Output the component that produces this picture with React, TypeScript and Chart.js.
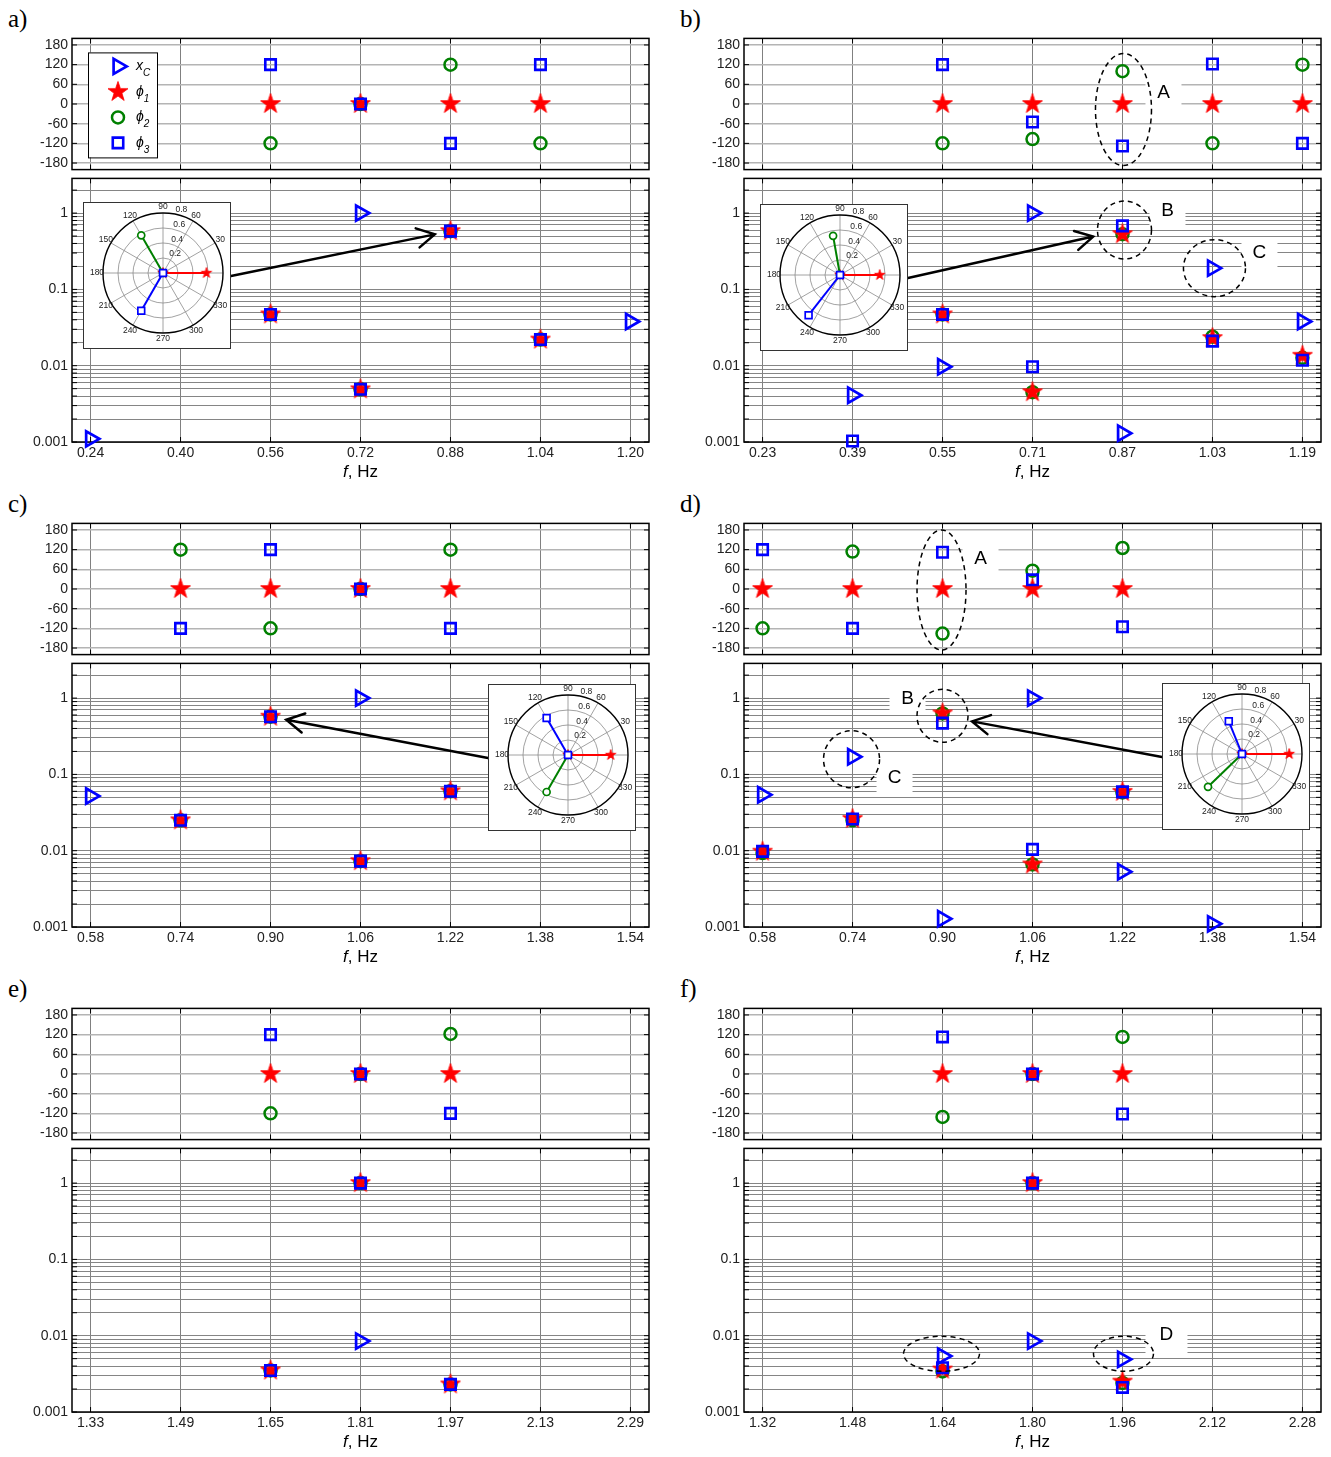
import React, { useEffect, useRef } from 'react';
import { Chart, registerables } from 'chart.js';

Chart.register(...registerables);

type Num = number | null;

// ---------------- shared axis values ----------------
const phaseTicks = [-180, -120, -60, 0, 60, 120, 180];
const magDecades = [0.001, 0.01, 0.1, 1];
const magSteps = [1, 2, 3, 4, 5, 6, 7, 8, 9];
const polarRings = [0.2, 0.4, 0.6, 0.8];
const polarAngles = [30, 60, 90, 120, 150, 180, 210, 240, 270, 300, 330];
const MAG_MAX = 2.85;

// ---------------- panel a ----------------
const aTicks = [0.24, 0.4, 0.56, 0.72, 0.88, 1.04, 1.2];
const aFreq = [0.24, 0.56, 0.72, 0.88, 1.04, 1.2];
const aXcMag: Num[] = [0.0011, null, 1.0, null, null, 0.038];
const aPhi1Mag: Num[] = [null, 0.047, 0.0049, 0.58, 0.022, null];
const aPhi2Mag: Num[] = [null, 0.047, 0.0049, 0.58, 0.022, null];
const aPhi3Mag: Num[] = [null, 0.047, 0.0049, 0.58, 0.022, null];
const aPhi1Deg: Num[] = [null, 0, 0, 0, 0, null];
const aPhi2Deg: Num[] = [null, -120, 0, 120, -120, null];
const aPhi3Deg: Num[] = [null, 120, 0, -120, 120, null];

// ---------------- panel b ----------------
const bTicks = [0.23, 0.39, 0.55, 0.71, 0.87, 1.03, 1.19];
const bFreq = [0.39, 0.55, 0.71, 0.87, 1.03, 1.19];
const bXcMag: Num[] = [0.0041, 0.0097, 1.0, 0.0013, 0.19, 0.038];
const bPhi1Mag: Num[] = [null, 0.047, 0.0045, 0.53, 0.023, 0.0135];
const bPhi2Mag: Num[] = [null, 0.047, 0.0045, 0.53, 0.024, 0.0127];
const bPhi3Mag: Num[] = [0.00103, 0.047, 0.0097, 0.68, 0.021, 0.0118];
const bPhi1Deg: Num[] = [null, 0, 0, 0, 0, 0];
const bPhi2Deg: Num[] = [null, -120, -107, 100, -120, 120];
const bPhi3Deg: Num[] = [null, 120, -55, -128, 122, -120];

// ---------------- panel c ----------------
const cTicks = [0.58, 0.74, 0.9, 1.06, 1.22, 1.38, 1.54];
const cFreq = [0.58, 0.74, 0.9, 1.06, 1.22];
const cXcMag: Num[] = [0.052, null, null, 1.0, null];
const cPhi1Mag: Num[] = [null, 0.025, 0.57, 0.0073, 0.06];
const cPhi2Mag: Num[] = [null, 0.025, 0.57, 0.0073, 0.06];
const cPhi3Mag: Num[] = [null, 0.025, 0.57, 0.0073, 0.06];
const cPhi1Deg: Num[] = [null, 0, 0, 0, 0];
const cPhi2Deg: Num[] = [null, 120, -120, 0, 120];
const cPhi3Deg: Num[] = [null, -120, 120, 0, -120];

// ---------------- panel d ----------------
const dTicks = [0.58, 0.74, 0.9, 1.06, 1.22, 1.38, 1.54];
const dFreq = [0.58, 0.74, 0.9, 1.06, 1.22, 1.38];
const dXcMag: Num[] = [0.054, 0.17, 0.00128, 1.0, 0.0053, 0.0011];
const dPhi1Mag: Num[] = [0.0097, 0.026, 0.63, 0.0066, 0.059, null];
const dPhi2Mag: Num[] = [0.0093, 0.025, 0.63, 0.0066, 0.058, null];
const dPhi3Mag: Num[] = [0.0098, 0.026, 0.47, 0.0104, 0.059, null];
const dPhi1Deg: Num[] = [0, 0, 0, 0, 0, null];
const dPhi2Deg: Num[] = [-120, 114, -136, 56, 125, null];
const dPhi3Deg: Num[] = [120, -120, 112, 28, -115, null];

// ---------------- panel e ----------------
const eTicks = [1.33, 1.49, 1.65, 1.81, 1.97, 2.13, 2.29];
const eFreq = [1.65, 1.81, 1.97];
const eXcMag: Num[] = [null, 0.0085, null];
const ePhi1Mag: Num[] = [0.0035, 1.0, 0.0023];
const ePhi2Mag: Num[] = [0.0035, 1.0, 0.0023];
const ePhi3Mag: Num[] = [0.0035, 1.0, 0.0023];
const ePhi1Deg: Num[] = [0, 0, 0];
const ePhi2Deg: Num[] = [-120, 0, 122];
const ePhi3Deg: Num[] = [120, 0, -120];

// ---------------- panel f ----------------
const fTicks = [1.32, 1.48, 1.64, 1.8, 1.96, 2.12, 2.28];
const fFreq = [1.64, 1.8, 1.96];
const fXcMag: Num[] = [0.0054, 0.0085, 0.0049];
const fPhi1Mag: Num[] = [0.0036, 1.0, 0.0025];
const fPhi2Mag: Num[] = [0.0034, 1.0, 0.0024];
const fPhi3Mag: Num[] = [0.0038, 1.0, 0.0021];
const fPhi1Deg: Num[] = [0, 0, 0];
const fPhi2Deg: Num[] = [-131, 0, 113];
const fPhi3Deg: Num[] = [113, 0, -122];

// ---------------- annotations ----------------
interface Ellipse { sub: 'top' | 'bot'; x: number; y: number; rx: number; ry: number; dx?: number }
interface Label { sub: 'top' | 'bot'; x: number; y: number; dx: number; dy: number; text: string; bw?: number; bh?: number }
interface Inset { left: number; top: number; idx: number; side: 'left' | 'right'; toX: number; toY: number; gap: number }

const bEllipses: Ellipse[] = [
  { sub: 'top', x: 0.87, y: -17, rx: 28, ry: 56, dx: 1 },
  { sub: 'bot', x: 0.87, y: 0.6, rx: 27, ry: 29, dx: 2 },
  { sub: 'bot', x: 1.03, y: 0.19, rx: 31, ry: 28.5, dx: 2 },
];
const bLabels: Label[] = [
  { sub: 'top', x: 0.87, y: -17, dx: 41, dy: -17, text: 'A' },
  { sub: 'bot', x: 0.87, y: 0.6, dx: 45, dy: -19, text: 'B' },
  { sub: 'bot', x: 1.03, y: 0.19, dx: 47, dy: -15, text: 'C' },
];
const dEllipses: Ellipse[] = [
  { sub: 'top', x: 0.9, y: -3, rx: 24.5, ry: 60, dx: -1 },
  { sub: 'bot', x: 0.9, y: 0.585, rx: 25.5, ry: 26.5, dx: 0 },
  { sub: 'bot', x: 0.74, y: 0.158, rx: 28, ry: 28.5, dx: -1 },
];
const dLabels: Label[] = [
  { sub: 'top', x: 0.9, y: -3, dx: 38, dy: -31, text: 'A' },
  { sub: 'bot', x: 0.9, y: 0.585, dx: -35, dy: -17, text: 'B' },
  { sub: 'bot', x: 0.74, y: 0.158, dx: 42, dy: 19, text: 'C' },
];
const fEllipses: Ellipse[] = [
  { sub: 'bot', x: 1.64, y: 0.0058, rx: 38, ry: 17.5, dx: -1 },
  { sub: 'bot', x: 1.96, y: 0.0058, rx: 30, ry: 17.5, dx: 1 },
];
const fLabels: Label[] = [
  { sub: 'bot', x: 1.96, y: 0.0058, dx: 44, dy: -19, text: 'D', bw: 42, bh: 40 },
];

// ---------------- layout ----------------
const FONT = '"Liberation Sans", Arial, "DejaVu Sans", sans-serif';
const BLUE = '#0000ff';
const RED = '#ff0000';
const GREEN = '#008000';
const COL_X = [0, 672];
const ROW_Y = [0, 485, 970];
const Y_AXIS_W = 72;
const BOX_W = 577;
const PAD_R = 8;
const CW = Y_AXIS_W + BOX_W + PAD_R;
const TOP_CT = 26;
const TOP_PAD = 10;
const TOP_BOX_H = 136;
const TOP_CH = TOP_PAD + TOP_BOX_H + TOP_PAD;
const BOT_CT = 166;
const BOT_PAD = 10;
const BOT_BOX_H = 266;
const BOT_XAX_H = 24;
const BOT_CH = BOT_PAD + BOT_BOX_H + BOT_XAX_H;
const X_MARGIN = 0.033;
const INSET_W = 148;
const INSET_H = 147;
const INSET_CX = 80;
const INSET_CY = 71;
const POLAR_PX = 75;

interface PanelSpec {
  letter: string; col: number; row: number; ticks: number[]; freq: number[];
  xc: Num[]; m1: Num[]; m2: Num[]; m3: Num[]; d1: Num[]; d2: Num[]; d3: Num[];
  legend?: boolean; inset?: Inset; ellipses: Ellipse[]; labels: Label[];
}

const PANELS: PanelSpec[] = [
  { letter: 'a', col: 0, row: 0, ticks: aTicks, freq: aFreq, xc: aXcMag, m1: aPhi1Mag, m2: aPhi2Mag, m3: aPhi3Mag, d1: aPhi1Deg, d2: aPhi2Deg, d3: aPhi3Deg, legend: true,
    inset: { left: 83, top: 202, idx: 3, side: 'right', toX: 0.88, toY: 0.58, gap: 16 }, ellipses: [], labels: [] },
  { letter: 'b', col: 1, row: 0, ticks: bTicks, freq: bFreq, xc: bXcMag, m1: bPhi1Mag, m2: bPhi2Mag, m3: bPhi3Mag, d1: bPhi1Deg, d2: bPhi2Deg, d3: bPhi3Deg,
    inset: { left: 88, top: 204, idx: 3, side: 'right', toX: 0.87, toY: 0.6, gap: 30 }, ellipses: bEllipses, labels: bLabels },
  { letter: 'c', col: 0, row: 1, ticks: cTicks, freq: cFreq, xc: cXcMag, m1: cPhi1Mag, m2: cPhi2Mag, m3: cPhi3Mag, d1: cPhi1Deg, d2: cPhi2Deg, d3: cPhi3Deg,
    inset: { left: 488, top: 199, idx: 2, side: 'left', toX: 0.9, toY: 0.57, gap: 16 }, ellipses: [], labels: [] },
  { letter: 'd', col: 1, row: 1, ticks: dTicks, freq: dFreq, xc: dXcMag, m1: dPhi1Mag, m2: dPhi2Mag, m3: dPhi3Mag, d1: dPhi1Deg, d2: dPhi2Deg, d3: dPhi3Deg,
    inset: { left: 490, top: 198, idx: 2, side: 'left', toX: 0.9, toY: 0.585, gap: 30 }, ellipses: dEllipses, labels: dLabels },
  { letter: 'e', col: 0, row: 2, ticks: eTicks, freq: eFreq, xc: eXcMag, m1: ePhi1Mag, m2: ePhi2Mag, m3: ePhi3Mag, d1: ePhi1Deg, d2: ePhi2Deg, d3: ePhi3Deg,
    ellipses: [], labels: [] },
  { letter: 'f', col: 1, row: 2, ticks: fTicks, freq: fFreq, xc: fXcMag, m1: fPhi1Mag, m2: fPhi2Mag, m3: fPhi3Mag, d1: fPhi1Deg, d2: fPhi2Deg, d3: fPhi3Deg,
    ellipses: fEllipses, labels: fLabels },
];

// ---------------- markers ----------------
const TRI_R = 8.8, TRI_W = 2.7;
const SQ_R = 7.4, SQ_W = 2.6;
const CI_R = 6, CI_W = 2.5;
const ST_R = 10.5;

const starCache: Record<string, HTMLCanvasElement> = {};
function getStar(R: number): HTMLCanvasElement {
  const key = String(R);
  if (starCache[key]) return starCache[key];
  const size = Math.ceil(R + 2) * 2;
  const c = document.createElement('canvas');
  c.width = size; c.height = size;
  const g = c.getContext('2d')!;
  const cx = size / 2, cy = size / 2;
  g.beginPath();
  for (let i = 0; i < 10; i++) {
    const r = i % 2 === 0 ? R : R * 0.39;
    const a = -Math.PI / 2 + (i * Math.PI) / 5;
    const px = cx + r * Math.cos(a), py = cy + r * Math.sin(a);
    if (i === 0) g.moveTo(px, py); else g.lineTo(px, py);
  }
  g.closePath();
  g.fillStyle = RED; g.fill();
  g.lineWidth = 0.8; g.strokeStyle = RED; g.stroke();
  starCache[key] = c;
  return c;
}

function ds(freq: number[], vals: Num[], kind: string): any {
  const data: { x: number; y: number }[] = [];
  freq.forEach((f, i) => { const v = vals[i]; if (v !== null && v !== undefined) data.push({ x: f, y: v }); });
  const base = { data, showLine: false, clip: false };
  switch (kind) {
    case 'tri':
      return { ...base, pointStyle: 'triangle', pointRotation: 90, pointRadius: TRI_R, pointHoverRadius: TRI_R, pointBorderColor: BLUE, pointBackgroundColor: 'rgba(0,0,0,0)', pointBorderWidth: TRI_W, order: 0 };
    case 'sq':
      return { ...base, pointStyle: 'rect', pointRadius: SQ_R, pointHoverRadius: SQ_R, pointBorderColor: BLUE, pointBackgroundColor: 'rgba(0,0,0,0)', pointBorderWidth: SQ_W, order: 1 };
    case 'star':
      return { ...base, pointStyle: getStar(ST_R), pointRadius: ST_R, pointHoverRadius: ST_R, order: 2 };
    default:
      return { ...base, pointStyle: 'circle', pointRadius: CI_R, pointHoverRadius: CI_R, pointBorderColor: GREEN, pointBackgroundColor: 'rgba(0,0,0,0)', pointBorderWidth: CI_W, order: 3 };
  }
}

function drawLegendMarker(ctx: CanvasRenderingContext2D, kind: string, x: number, y: number) {
  ctx.save();
  ctx.beginPath();
  if (kind === 'tri') {
    const r = TRI_R;
    ctx.moveTo(x + r, y); ctx.lineTo(x - r / 2, y + r * 0.866); ctx.lineTo(x - r / 2, y - r * 0.866); ctx.closePath();
    ctx.lineWidth = TRI_W; ctx.strokeStyle = BLUE; ctx.stroke();
  } else if (kind === 'star') {
    const s = getStar(ST_R);
    ctx.drawImage(s, x - s.width / 2, y - s.height / 2);
  } else if (kind === 'circ') {
    ctx.arc(x, y, CI_R, 0, Math.PI * 2); ctx.lineWidth = CI_W; ctx.strokeStyle = GREEN; ctx.stroke();
  } else {
    const h = SQ_R * Math.SQRT1_2;
    ctx.rect(x - h, y - h, 2 * h, 2 * h); ctx.lineWidth = SQ_W; ctx.strokeStyle = BLUE; ctx.stroke();
  }
  ctx.restore();
}

function magGridValues(): number[] {
  const out: number[] = [];
  magDecades.forEach((d) => magSteps.forEach((k) => { const v = d * k; if (v <= MAG_MAX) out.push(v); }));
  return out;
}
function magLabel(v: number): string {
  for (const d of magDecades) if (Math.abs(v / d - 1) < 1e-6) return String(d);
  return '';
}

// ---------------- plugins ----------------
function makeMainPlugin(p: PanelSpec, sub: 'top' | 'bot') {
  const canvasTop = sub === 'top' ? TOP_CT : BOT_CT;
  const toPix = (chart: any, x: number, y: number) => [chart.scales.x.getPixelForValue(x), chart.scales.y.getPixelForValue(y)];
  return {
    id: 'mainDecor',
    beforeDatasetsDraw(chart: any) {
      const { ctx, chartArea: ca } = chart;
      const xs = chart.scales.x, ys = chart.scales.y;
      ctx.save();
      p.labels.filter((l) => l.sub === sub).forEach((l) => {
        const [px, py] = toPix(chart, l.x, l.y);
        const bw = l.bw ?? 36, bh = l.bh ?? 28;
        ctx.fillStyle = '#fff';
        ctx.fillRect(px + l.dx - bw / 2, py + l.dy - bh / 2, bw, bh);
      });
      ctx.strokeStyle = '#000'; ctx.lineWidth = 1.5;
      ctx.strokeRect(ca.left, ca.top, ca.right - ca.left, ca.bottom - ca.top);
      ctx.lineWidth = 1;
      ctx.beginPath();
      xs.ticks.forEach((t: any) => {
        const px = xs.getPixelForValue(t.value);
        ctx.moveTo(px, ca.top); ctx.lineTo(px, ca.top + 5);
        ctx.moveTo(px, ca.bottom); ctx.lineTo(px, ca.bottom - 5);
      });
      ys.ticks.forEach((t: any) => {
        const py = ys.getPixelForValue(t.value);
        ctx.moveTo(ca.left, py); ctx.lineTo(ca.left + 5, py);
        ctx.moveTo(ca.right, py); ctx.lineTo(ca.right - 5, py);
      });
      ctx.stroke();
      ctx.restore();
    },
    afterDatasetsDraw(chart: any) {
      const { ctx, chartArea: ca } = chart;
      ctx.save();
      ctx.strokeStyle = '#000'; ctx.lineWidth = 1.5; ctx.setLineDash([5, 4]);
      p.ellipses.filter((e) => e.sub === sub).forEach((e) => {
        const [px, py] = toPix(chart, e.x, e.y);
        ctx.beginPath();
        ctx.ellipse(px + (e.dx ?? 0), py, e.rx, e.ry, 0, 0, Math.PI * 2);
        ctx.stroke();
      });
      ctx.setLineDash([]);
      ctx.fillStyle = '#000'; ctx.font = `19px ${FONT}`; ctx.textAlign = 'center'; ctx.textBaseline = 'middle';
      p.labels.filter((l) => l.sub === sub).forEach((l) => {
        const [px, py] = toPix(chart, l.x, l.y);
        ctx.fillText(l.text, px + l.dx, py + l.dy);
      });
      if (sub === 'bot' && p.inset) {
        const ins = p.inset;
        const sx = ins.left + (ins.side === 'right' ? INSET_W : 0);
        const sy = ins.top + INSET_CY + 3 - canvasTop;
        const [tx, ty] = toPix(chart, ins.toX, ins.toY);
        const dx = tx - sx, dy = ty - sy, L = Math.hypot(dx, dy);
        const ux = dx / L, uy = dy / L;
        const ex = tx - ux * ins.gap, ey = ty - uy * ins.gap;
        ctx.strokeStyle = '#000'; ctx.lineWidth = 2.5; ctx.lineCap = 'round';
        ctx.beginPath(); ctx.moveTo(sx, sy); ctx.lineTo(ex, ey);
        const back = Math.atan2(-uy, -ux);
        const da = (29 * Math.PI) / 180;
        ctx.moveTo(ex + 20 * Math.cos(back + da), ey + 20 * Math.sin(back + da));
        ctx.lineTo(ex, ey);
        ctx.lineTo(ex + 20 * Math.cos(back - da), ey + 20 * Math.sin(back - da));
        ctx.stroke();
      }
      if (sub === 'top' && p.legend) {
        const bx = ca.left + 16, by = ca.top + 14, bw = 69, bh = 105;
        ctx.fillStyle = '#fff'; ctx.fillRect(bx, by, bw, bh);
        ctx.strokeStyle = '#000'; ctx.lineWidth = 1; ctx.strokeRect(bx + 0.5, by + 0.5, bw, bh);
        const rows = [
          { kind: 'tri', main: 'x', subs: 'C' },
          { kind: 'star', main: '\u03D5', subs: '1' },
          { kind: 'circ', main: '\u03D5', subs: '2' },
          { kind: 'sq', main: '\u03D5', subs: '3' },
        ];
        rows.forEach((r, i) => {
          const yy = by + 14 + i * 25.5;
          drawLegendMarker(ctx, r.kind, bx + 30, yy);
          ctx.fillStyle = '#000'; ctx.textAlign = 'left'; ctx.textBaseline = 'alphabetic';
          ctx.font = `italic 14px ${FONT}`;
          ctx.fillText(r.main, bx + 48, yy + 4);
          const w = ctx.measureText(r.main).width;
          ctx.font = `italic 10px ${FONT}`;
          ctx.fillText(r.subs, bx + 48 + w, yy + 10);
        });
      }
      ctx.restore();
    },
  };
}

const polarPlugin = {
  id: 'polarGrid',
  beforeDatasetsDraw(chart: any) {
    const { ctx, chartArea: ca } = chart;
    const xs = chart.scales.x, ys = chart.scales.y;
    const cx = xs.getPixelForValue(0), cy = ys.getPixelForValue(0);
    const k = xs.getPixelForValue(1) - cx;
    const rmax = polarRings[polarRings.length - 1];
    ctx.save();
    ctx.fillStyle = '#fff';
    ctx.fillRect(ca.left, ca.top, ca.right - ca.left, ca.bottom - ca.top);
    ctx.strokeStyle = '#8a8a8a'; ctx.lineWidth = 0.8;
    polarRings.slice(0, -1).forEach((r) => { ctx.beginPath(); ctx.arc(cx, cy, r * k, 0, Math.PI * 2); ctx.stroke(); });
    polarAngles.filter((a) => a <= 180).forEach((a) => {
      const rad = (a * Math.PI) / 180;
      ctx.beginPath();
      ctx.moveTo(cx - rmax * k * Math.cos(rad), cy + rmax * k * Math.sin(rad));
      ctx.lineTo(cx + rmax * k * Math.cos(rad), cy - rmax * k * Math.sin(rad));
      ctx.stroke();
    });
    ctx.strokeStyle = '#000'; ctx.lineWidth = 1.4;
    ctx.beginPath(); ctx.arc(cx, cy, rmax * k, 0, Math.PI * 2); ctx.stroke();
    ctx.fillStyle = '#222'; ctx.font = `8.5px ${FONT}`;
    ctx.textAlign = 'center'; ctx.textBaseline = 'middle';
    polarAngles.forEach((a) => {
      const rad = (a * Math.PI) / 180;
      ctx.fillText(String(a), cx + 1.1 * rmax * k * Math.cos(rad), cy - 1.1 * rmax * k * Math.sin(rad));
    });
    ctx.textAlign = 'left'; ctx.textBaseline = 'bottom';
    const c82 = Math.cos((82 * Math.PI) / 180), s82 = Math.sin((82 * Math.PI) / 180);
    polarRings.forEach((r) => {
      ctx.fillText(String(r), cx + (r + 0.01) * k * c82 + 4, cy - (r + 0.01) * k * s82 + 1);
    });
    ctx.restore();
  },
  afterDraw(chart: any) {
    const { ctx, chartArea: ca } = chart;
    ctx.save();
    ctx.strokeStyle = '#333'; ctx.lineWidth = 1;
    ctx.strokeRect(ca.left + 0.5, ca.top + 0.5, ca.right - ca.left - 1, ca.bottom - ca.top - 1);
    ctx.restore();
  },
};

// ---------------- configs ----------------
function makeMainConfig(p: PanelSpec, sub: 'top' | 'bot'): any {
  const isTop = sub === 'top';
  const datasets = isTop
    ? [ds(p.freq, p.d3, 'sq'), ds(p.freq, p.d1, 'star'), ds(p.freq, p.d2, 'circ')]
    : [ds(p.freq, p.xc, 'tri'), ds(p.freq, p.m3, 'sq'), ds(p.freq, p.m1, 'star'), ds(p.freq, p.m2, 'circ')];
  const tickFont = { family: FONT, size: 14 };
  const x: any = {
    type: 'linear',
    min: p.ticks[0] - X_MARGIN,
    max: p.ticks[p.ticks.length - 1] + X_MARGIN,
    afterBuildTicks: (s: any) => { s.ticks = p.ticks.map((v) => ({ value: v })); },
    afterFit: (s: any) => { s.height = isTop ? 0 : BOT_XAX_H; },
    grid: { color: '#808080', lineWidth: 1, drawTicks: false },
    border: { display: false },
    ticks: isTop
      ? { display: false }
      : { display: true, autoSkip: false, maxRotation: 0, minRotation: 0, padding: 3, font: tickFont, color: '#222', callback: (v: any) => Number(v).toFixed(2) },
  };
  const y: any = isTop
    ? {
        type: 'linear', min: -200, max: 200,
        afterBuildTicks: (s: any) => { s.ticks = phaseTicks.map((v) => ({ value: v })); },
        afterFit: (s: any) => { s.width = Y_AXIS_W; },
        grid: { color: '#b4b4b4', lineWidth: 1.5, drawTicks: false },
        border: { display: false },
        ticks: { autoSkip: false, padding: 4, font: tickFont, color: '#222', callback: (v: any) => String(v) },
      }
    : {
        type: 'logarithmic', min: 0.001, max: MAG_MAX,
        afterBuildTicks: (s: any) => { s.ticks = magGridValues().map((v) => ({ value: v })); },
        afterFit: (s: any) => { s.width = Y_AXIS_W; },
        grid: { color: '#858585', lineWidth: 1, drawTicks: false },
        border: { display: false },
        ticks: { autoSkip: false, padding: 4, font: tickFont, color: '#222', callback: (v: any) => magLabel(Number(v)) },
      };
  return {
    type: 'scatter',
    data: { datasets },
    options: {
      animation: false, responsive: false, maintainAspectRatio: false, devicePixelRatio: 1, events: [],
      layout: { autoPadding: false, padding: { top: isTop ? TOP_PAD : BOT_PAD, bottom: isTop ? TOP_PAD : 0, left: 0, right: PAD_R } },
      plugins: { legend: { display: false }, tooltip: { enabled: false } },
      scales: { x, y },
    },
    plugins: [makeMainPlugin(p, sub)],
  };
}

function makeInsetConfig(p: PanelSpec): any {
  const ins = p.inset!;
  const i = ins.idx;
  const seg = (m: Num, d: Num) => {
    const r = m ?? 0, a = ((d ?? 0) * Math.PI) / 180;
    return [{ x: 0, y: 0 }, { x: r * Math.cos(a), y: r * Math.sin(a) }];
  };
  const datasets: any[] = [
    { data: seg(p.m3[i], p.d3[i]), showLine: true, borderColor: BLUE, borderWidth: 2, pointStyle: 'rect', pointRadius: 4.8, pointBorderColor: BLUE, pointBorderWidth: 1.7, pointBackgroundColor: '#fff', order: 0, clip: false },
    { data: seg(p.m2[i], p.d2[i]), showLine: true, borderColor: GREEN, borderWidth: 2, pointStyle: 'circle', pointRadius: 3.5, pointBorderColor: GREEN, pointBorderWidth: 1.7, pointBackgroundColor: '#fff', order: 1, clip: false },
    { data: seg(p.m1[i], p.d1[i]), showLine: true, borderColor: RED, borderWidth: 2, pointStyle: getStar(5.5), pointRadius: 5.5, order: 2, clip: false },
  ];
  return {
    type: 'scatter',
    data: { datasets },
    options: {
      animation: false, responsive: false, maintainAspectRatio: false, devicePixelRatio: 1, events: [],
      layout: { autoPadding: false, padding: 0 },
      plugins: { legend: { display: false }, tooltip: { enabled: false } },
      scales: {
        x: { type: 'linear', display: false, min: -INSET_CX / POLAR_PX, max: (INSET_W - INSET_CX) / POLAR_PX },
        y: { type: 'linear', display: false, min: -(INSET_H - INSET_CY) / POLAR_PX, max: INSET_CY / POLAR_PX },
      },
    },
    plugins: [polarPlugin],
  };
}

// ---------------- components ----------------
function Panel({ p }: { p: PanelSpec }) {
  const topRef = useRef<HTMLCanvasElement>(null);
  const botRef = useRef<HTMLCanvasElement>(null);
  const insRef = useRef<HTMLCanvasElement>(null);
  useEffect(() => {
    const charts: Chart[] = [];
    if (topRef.current) charts.push(new Chart(topRef.current, makeMainConfig(p, 'top')));
    if (botRef.current) charts.push(new Chart(botRef.current, makeMainConfig(p, 'bot')));
    if (p.inset && insRef.current) charts.push(new Chart(insRef.current, makeInsetConfig(p)));
    return () => charts.forEach((c) => c.destroy());
  }, [p]);
  const ox = COL_X[p.col], oy = ROW_Y[p.row];
  return (
    <>
      <div style={{ position: 'absolute', left: ox + 8, top: oy + 6, font: '25px "Liberation Serif", "Times New Roman", serif', lineHeight: '25px', color: '#000' }}>
        {p.letter})
      </div>
      <canvas ref={topRef} width={CW} height={TOP_CH} style={{ position: 'absolute', left: ox, top: oy + TOP_CT, width: CW, height: TOP_CH }} />
      <canvas ref={botRef} width={CW} height={BOT_CH} style={{ position: 'absolute', left: ox, top: oy + BOT_CT, width: CW, height: BOT_CH }} />
      {p.inset && (
        <canvas ref={insRef} width={INSET_W} height={INSET_H} style={{ position: 'absolute', left: ox + p.inset.left, top: oy + p.inset.top, width: INSET_W, height: INSET_H }} />
      )}
      <div style={{ position: 'absolute', left: ox + Y_AXIS_W, width: BOX_W, top: oy + 462, textAlign: 'center', font: `17px ${FONT}`, lineHeight: '20px', color: '#000' }}>
        <i>f</i>, Hz
      </div>
    </>
  );
}

export default function App() {
  Chart.defaults.font.family = FONT;
  return (
    <div style={{ position: 'absolute', left: 0, top: 0, width: 1331, height: 1457, background: '#fff', overflow: 'hidden' }}>
      {PANELS.map((p) => (
        <Panel key={p.letter} p={p} />
      ))}
    </div>
  );
}
